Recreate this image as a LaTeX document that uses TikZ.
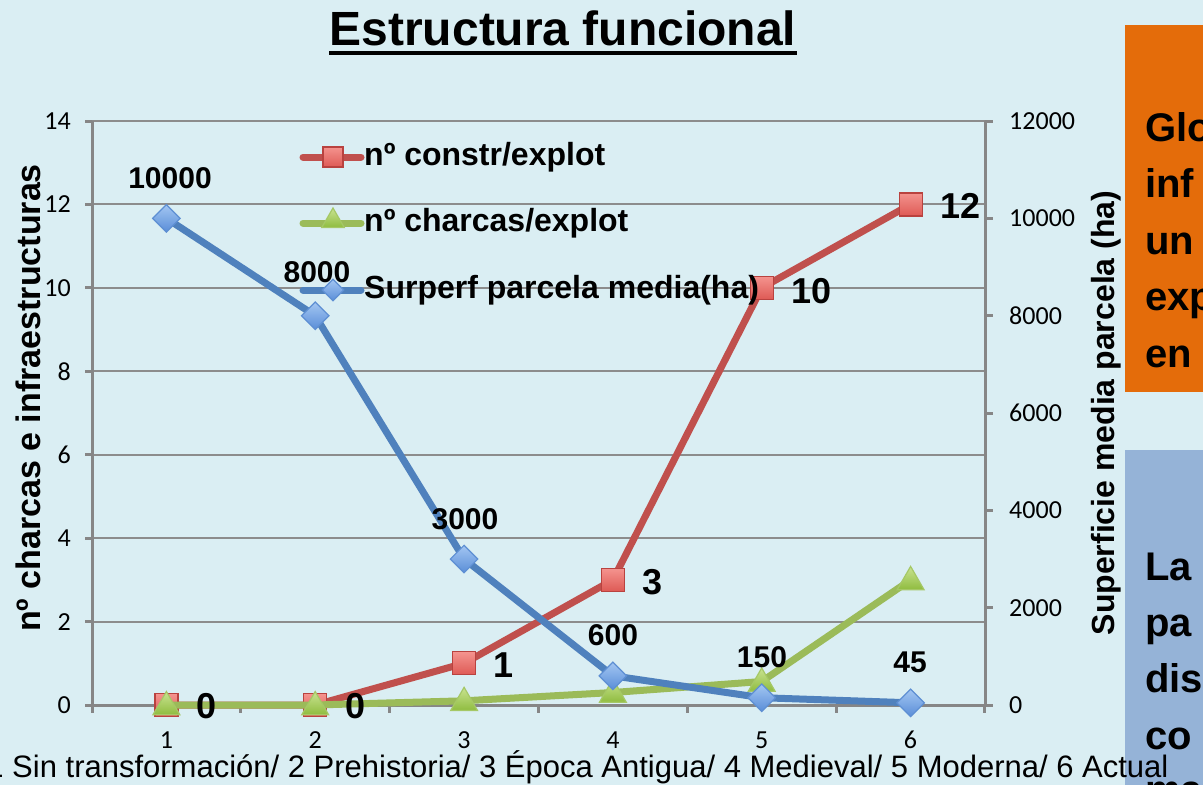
\documentclass[tikz,border=0pt]{standalone}
\usepackage{fontspec}
\setmainfont{Liberation Sans}
\newfontfamily\calfont{Carlito}
\usetikzlibrary{shapes.geometric}
\definecolor{bgc}{HTML}{DAEEF3}
\definecolor{gridc}{HTML}{8C8C8C}
\definecolor{axisc}{HTML}{868686}
\definecolor{redl}{HTML}{C0504D}
\definecolor{redb}{HTML}{B9423F}
\definecolor{redt}{HTML}{F4938E}
\definecolor{redd}{HTML}{DE5A55}
\definecolor{greenl}{HTML}{9BBB59}
\definecolor{greent}{HTML}{C9E391}
\definecolor{greend}{HTML}{8FBC3F}
\definecolor{greenb}{HTML}{A5C866}
\definecolor{bluel}{HTML}{4F81BD}
\definecolor{bluet}{HTML}{A3C6F2}
\definecolor{blued}{HTML}{5A8ED8}
\definecolor{blueb}{HTML}{5E8FD3}
\definecolor{orangebox}{HTML}{E46C0A}
\definecolor{bluebox}{HTML}{95B3D7}
\begin{document}
\begin{tikzpicture}[x=1pt,y=-1pt,
  gridline/.style={draw=gridc,line width=2},
  axisline/.style={draw=axisc,line width=3},
  ticklab/.style={font=\calfont\fontsize{26}{30}\selectfont,inner sep=0,text=black},
  axtitle/.style={font=\fontsize{32}{38}\selectfont\bfseries,inner sep=0,rotate=90},
  serline/.style={line width=7,line join=round,line cap=round},
  sqmark/.style={rectangle,minimum size=23,inner sep=0,draw=redb,line width=1.2,top color=redt,bottom color=redd},
  trimark/.style={regular polygon,regular polygon sides=3,minimum size=31,inner sep=0,draw=greenb,line width=1.2,top color=greent,bottom color=greend},
  dmark/.style={diamond,minimum width=28,minimum height=28,inner sep=0,draw=blueb,line width=1.2,top color=bluet,bottom color=blued},
  lsq/.style={sqmark,minimum size=20},
  ltri/.style={trimark,minimum size=26},
  ldm/.style={dmark,minimum width=22,minimum height=22},
  bluelab/.style={font=\fontsize{30}{36}\selectfont\bfseries,inner sep=0},
  redlab/.style={font=\fontsize{36}{42}\selectfont\bfseries,inner sep=0,anchor=west},
  legtext/.style={font=\fontsize{32}{38}\selectfont\bfseries,inner sep=0,anchor=west},
  boxtext/.style={font=\fontsize{40}{48}\selectfont\bfseries,inner sep=0,anchor=base west}
]
\useasboundingbox (0,0) rectangle (1203,785);
\clip (0,0) rectangle (1203,785);
\fill[bgc] (0,0) rectangle (1203,785);

% title
\node[font=\fontsize{48}{56}\selectfont\bfseries,inner sep=0,anchor=base] (title) at (563,45) {Estructura funcional};
\draw[line width=4] ([yshift=-8pt]title.base west) -- ([yshift=-8pt]title.base east);

% gridlines
\foreach \v in {2,4,...,14}
  \draw[gridline] (92,{705-\v*41.714}) -- (985,{705-\v*41.714});

% left axis
\draw[axisline] (92,121) -- (92,705);
\foreach \v in {0,2,...,14}{
  \draw[axisline] (85,{705-\v*41.714}) -- (92,{705-\v*41.714});
  \node[ticklab,anchor=east] (ly\v) at (71,{705-\v*41.714}) {\v};
}
% right axis
\draw[axisline] (985,121) -- (985,705);
\foreach \k/\lab in {0/0,1/2000,2/4000,3/6000,4/8000,5/10000,6/12000}{
  \draw[axisline] (985,{705-\k*97.333}) -- (993,{705-\k*97.333});
  \node[ticklab,anchor=west] (ry\k) at (1009,{705-\k*97.333}) {\lab};
}
% bottom axis
\draw[axisline] (85,705) -- (993,705);
\foreach \k in {0,...,6}
  \draw[axisline] ({92+\k*148.83},705) -- ({92+\k*148.83},713);
\foreach \i in {1,...,6}
  \node[ticklab] (cx\i) at ({92+(\i-0.5)*148.83},740) {\i};

% axis titles
\node[axtitle,font=\fontsize{34}{40}\selectfont\bfseries] (ltitle) at (28,398) {nº charcas e infraestructuras};
\node[axtitle] (rtitle) at (1106,413) {Superficie media parcela (ha)};

% data coordinates
\coordinate (r1) at (166.4,705);
\coordinate (r2) at (315.2,705);
\coordinate (r3) at (464.1,663.3);
\coordinate (r4) at (612.9,579.9);
\coordinate (r5) at (761.7,287.9);
\coordinate (r6) at (910.6,204.4);
\coordinate (g1) at (166.4,705);
\coordinate (g2) at (315.2,705);
\coordinate (g3) at (464.1,700.8);
\coordinate (g4) at (612.9,692.5);
\coordinate (g5) at (761.7,681.5);
\coordinate (g6) at (910.6,579.9);
\coordinate (b1) at (166.4,218.3);
\coordinate (b2) at (315.2,315.7);
\coordinate (b3) at (464.1,559);
\coordinate (b4) at (612.9,675.8);
\coordinate (b5) at (761.7,697.7);
\coordinate (b6) at (910.6,702.8);

% red series
\draw[serline,redl] (r1) -- (r2) -- (r3) -- (r4) -- (r5) -- (r6);
\foreach \i in {1,...,6} \node[sqmark] (rm\i) at (r\i) {};
% green series
\draw[serline,greenl] (g1) -- (g2) -- (g3) -- (g4) -- (g5) -- (g6);
\foreach \i in {1,...,6} \node[trimark] (gm\i) at ([yshift=-2pt]g\i) {};
% blue series
\draw[serline,bluel] (b1) -- (b2) -- (b3) -- (b4) -- (b5) -- (b6);
\foreach \i in {1,...,6} \node[dmark] (bm\i) at (b\i) {};

% blue labels
\node[bluelab] (bl1) at (170,178) {10000};
\node[bluelab] (bl2) at (317,272) {8000};
\node[bluelab] (bl3) at (465,519) {3000};
\node[bluelab] (bl4) at (613,635) {600};
\node[bluelab] (bl5) at (762,657) {150};
\node[bluelab] (bl6) at (910,662) {45};
% red labels
\node[redlab] (rl1) at (196,706) {0};
\node[redlab] (rl2) at (345,706) {0};
\node[redlab] (rl3) at (493,665) {1};
\node[redlab] (rl4) at (642,582) {3};
\node[redlab] (rl5) at (791,291) {10};
\node[redlab] (rl6) at (940,206) {12};

% legend
\coordinate (la1) at (303,157); \coordinate (lb1) at (361,157);
\coordinate (la2) at (303,223); \coordinate (lb2) at (361,223);
\coordinate (la3) at (303,290); \coordinate (lb3) at (361,290);
\draw[serline,redl] (la1) -- (lb1);
\node[lsq] (lm1) at (333,157) {};
\node[legtext] (lt1) at (364,157) {nº constr/explot};
\draw[serline,greenl] (la2) -- (lb2);
\node[ltri] (lm2) at (333,221) {};
\node[legtext] (lt2) at (364,223) {nº charcas/explot};
\draw[serline,bluel] (la3) -- (lb3);
\node[ldm] (lm3) at (333,290) {};
\node[legtext] (lt3) at (364,290) {Surperf parcela media(ha)};

% right boxes
\node[fill=orangebox,inner sep=0,minimum width=100,minimum height=367,anchor=north west] (obox) at (1125,25) {};
\node[boxtext] (o1) at (1145,141) {Glo};
\node[boxtext] (o2) at (1145,197.5) {inf};
\node[boxtext] (o3) at (1145,254) {un};
\node[boxtext] (o4) at (1145,310.5) {exp};
\node[boxtext] (o5) at (1145,367) {en};
\node[fill=bluebox,inner sep=0,minimum width=100,minimum height=360,anchor=north west] (bbox) at (1125,450) {};
\node[boxtext] (p1) at (1145,580) {La};
\node[boxtext] (p2) at (1145,636) {pa};
\node[boxtext] (p3) at (1145,692.5) {dis};
\node[boxtext] (p4) at (1145,749) {co};
\node[boxtext] (p5) at (1145,803) {ma};

% caption
\node[font=\fontsize{31}{36}\selectfont,inner sep=0,anchor=base west] (caption) at (-13.8,777) {1 Sin transformación/ 2 Prehistoria/ 3 Época Antigua/ 4 Medieval/ 5 Moderna/ 6 Actual};
\end{tikzpicture}
\end{document}
